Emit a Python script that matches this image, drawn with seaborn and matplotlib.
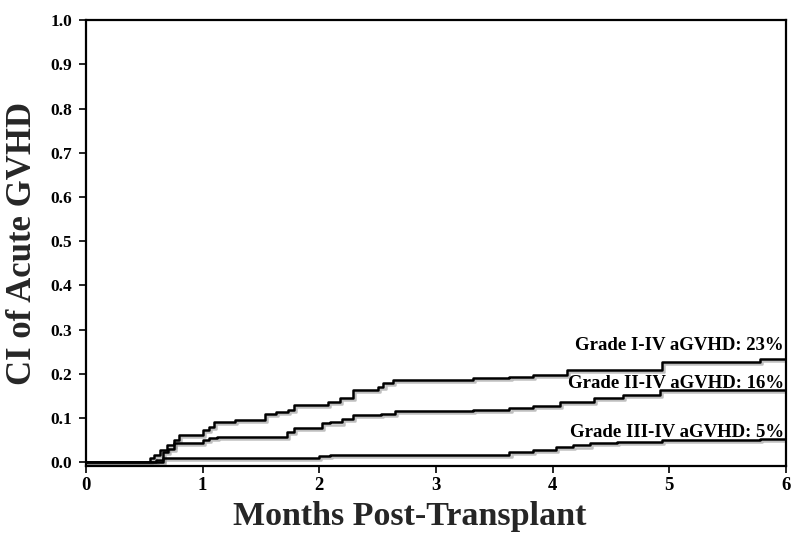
import matplotlib
matplotlib.use("Agg")
import matplotlib.pyplot as plt
import matplotlib.patheffects as pe
import seaborn as sns
import pandas as pd

# ---- data ----
grade1_t = [0, 0.55, 0.58, 0.63, 0.69, 0.75, 0.80, 1.00, 1.05, 1.10, 1.28, 1.53, 1.63, 1.73, 1.78,
            2.07, 2.18, 2.29, 2.50, 2.55, 2.63, 3.32, 3.63, 3.83, 4.12, 4.94, 5.78, 6.0]
grade1_v = [0, 0.009, 0.016, 0.027, 0.038, 0.050, 0.061, 0.072, 0.080, 0.091, 0.096, 0.110, 0.114, 0.118, 0.129,
            0.136, 0.145, 0.163, 0.170, 0.179, 0.186, 0.190, 0.193, 0.197, 0.208, 0.226, 0.233, 0.233]

grade2_t = [0, 0.60, 0.66, 0.70, 0.75, 1.00, 1.05, 1.12, 1.72, 1.78, 2.02, 2.09, 2.19, 2.29,
            2.53, 2.65, 3.32, 3.63, 3.83, 4.06, 4.35, 4.60, 4.92, 6.0]
grade2_v = [0, 0.005, 0.023, 0.031, 0.043, 0.050, 0.054, 0.057, 0.069, 0.077, 0.088, 0.090, 0.097, 0.106,
            0.110, 0.115, 0.118, 0.122, 0.127, 0.136, 0.145, 0.152, 0.163, 0.163]

grade3_t = [0, 0.66, 2.00, 2.09, 3.63, 3.83, 4.03, 4.17, 4.32, 4.55, 4.94, 5.78, 6.0]
grade3_v = [0, 0.009, 0.014, 0.016, 0.023, 0.027, 0.034, 0.038, 0.043, 0.045, 0.050, 0.052, 0.052]

labels = ["Grade I-IV aGVHD: 23%", "Grade II-IV aGVHD: 16%", "Grade III-IV aGVHD: 5%"]
label_y = [0.265, 0.179, 0.068]

x_ticks = [0, 1, 2, 3, 4, 5, 6]
y_ticks = [0.0, 0.1, 0.2, 0.3, 0.4, 0.5, 0.6, 0.7, 0.8, 0.9, 1.0]

# ---- plot ----
sns.set_theme(style="white")
plt.rcParams['font.family'] = ['Liberation Serif', 'DejaVu Serif']
plt.rcParams['font.weight'] = 'bold'

fig = plt.figure(figsize=(8.0, 5.44), dpi=100)
ax = fig.add_axes([0.1075, 0.143, 0.875, 0.820])

series = [(grade1_t, grade1_v), (grade2_t, grade2_v), (grade3_t, grade3_v)]
shadow = [pe.SimpleLineShadow(offset=(1.5, -1.5), shadow_color='gray', alpha=0.5), pe.Normal()]
for (t, v), lab in zip(series, labels):
    df = pd.DataFrame({"t": t, "v": v})
    sns.lineplot(data=df, x="t", y="v", ax=ax, color="black", linewidth=1.8,
                 drawstyle="steps-post", path_effects=shadow)

for lab, yv in zip(labels, label_y):
    ax.text(5.98, yv, lab, ha="right", va="center", fontsize=13.5,
            fontweight="bold", color="black")

ax.set_xlim(0, 6)
ax.set_ylim(-0.009, 1.0)
ax.set_xticks(x_ticks)
ax.set_xticklabels([str(x) for x in x_ticks])
ax.set_yticks(y_ticks)
ax.set_yticklabels([f"{y:.1f}" for y in y_ticks])
ax.tick_params(axis="both", direction="out", length=5, width=1.2, colors="black",
               bottom=True, left=True, pad=5)
ax.tick_params(axis="y", labelsize=12.5)
ax.tick_params(axis="x", labelsize=13.5, pad=3)
for lbl in ax.get_xticklabels() + ax.get_yticklabels():
    lbl.set_fontweight("bold")

for s in ax.spines.values():
    s.set_visible(True)
    s.set_color("black")
    s.set_linewidth(1.6)

ax.set_xlabel("Months Post-Transplant", fontsize=24.5, fontweight="bold")
ax.xaxis.set_label_coords(0.462, -0.078)
ax.set_ylabel("CI of Acute GVHD", fontsize=25, fontweight="bold", labelpad=8)

fig.savefig("out.png", dpi=100)
